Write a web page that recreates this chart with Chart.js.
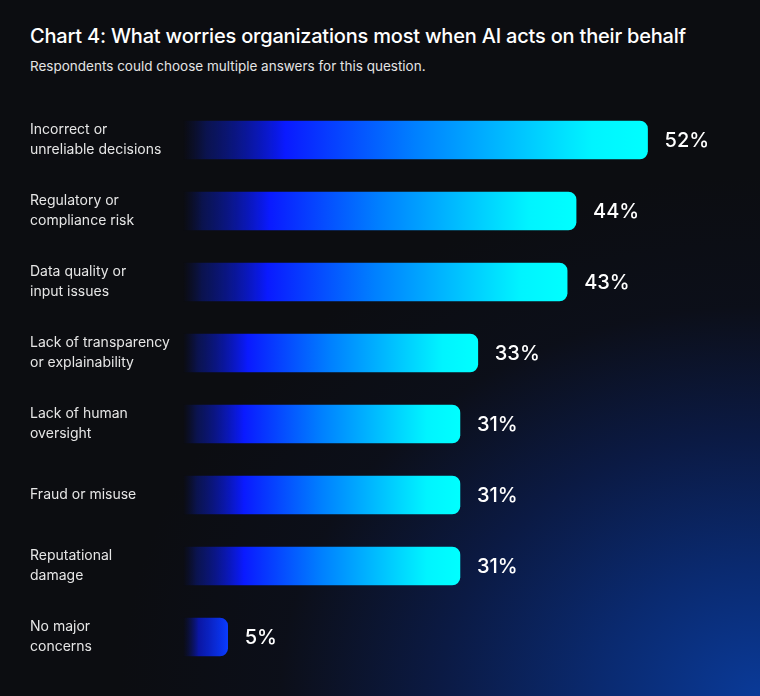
<!DOCTYPE html>
<html>
<head>
<meta charset="utf-8">
<script src="https://cdn.jsdelivr.net/npm/chart.js@4/dist/chart.umd.min.js"></script>
<style>
html,body{margin:0;padding:0;}
body{width:760px;height:696px;overflow:hidden;position:relative;font-family:Inter,"Noto Sans",sans-serif;
background:radial-gradient(ellipse 640px 520px at 100% 100%,#0a3a98 0%,#0a2a70 25%,#0b1a44 50%,rgba(12,16,30,0.6) 75%,rgba(12,13,18,0) 100%),#0c0d11;}
h1{position:absolute;left:30px;top:24px;margin:0;font-size:20px;font-weight:500;color:#fff;letter-spacing:-0.2px;}
p{position:absolute;left:30px;top:58px;margin:0;font-size:13.5px;color:#e4e4e4;}
#wrap{position:absolute;left:0;top:0;width:760px;height:696px;}
</style>
</head>
<body>
<h1>Chart 4: What worries organizations most when AI acts on their behalf</h1>
<p>Respondents could choose multiple answers for this question.</p>
<div id="wrap"><canvas id="c"></canvas></div>
<script>
const categories=[
["Incorrect or","unreliable decisions"],
["Regulatory or","compliance risk"],
["Data quality or","input issues"],
["Lack of transparency","or explainability"],
["Lack of human","oversight"],
"Fraud or misuse",
["Reputational","damage"],
["No major","concerns"]];
const values=[52,44,43,33,31,31,31,5];

function barFill(ctx){
const chart=ctx.chart;
if(!chart.chartArea) return "#0a1aff";
const xs=chart.scales.x;
const x0=xs.getPixelForValue(0);
const x1=xs.getPixelForValue(values[ctx.dataIndex]);
const g=chart.ctx.createLinearGradient(x0,0,x1,0);
if(values[ctx.dataIndex]<10){
g.addColorStop(0,"rgba(10,20,110,0)");
g.addColorStop(0.35,"rgba(10,25,200,0.8)");
g.addColorStop(1,"#0a3cff");
return g;
}
g.addColorStop(0,"rgba(10,20,100,0)");
g.addColorStop(0.05,"rgba(10,25,130,0.55)");
g.addColorStop(0.22,"#0a1aff");
g.addColorStop(0.5,"#0080ff");
g.addColorStop(0.88,"#00f4ff");
g.addColorStop(1,"#00ffff");
return g;
}

const valueLabels={
id:"valueLabels",
afterDatasetsDraw(chart){
const c=chart.ctx;
const meta=chart.getDatasetMeta(0);
c.save();
c.fillStyle="#ffffff";
c.font="500 20px Inter, 'Noto Sans', sans-serif";
c.textAlign="left";
c.textBaseline="middle";
meta.data.forEach((bar,i)=>{
c.fillText(values[i]+"%",bar.x+17,bar.y+1);
});
c.restore();
}
};

new Chart(document.getElementById("c"),{
type:"bar",
data:{labels:categories,datasets:[{
data:values,
backgroundColor:barFill,
borderRadius:8,
borderSkipped:"start",
barThickness:38
}]},
options:{
indexAxis:"y",
responsive:true,
maintainAspectRatio:false,
animation:false,
layout:{padding:{left:30,right:41,top:104.5,bottom:23.5}},
plugins:{legend:{display:false},tooltip:{enabled:false}},
scales:{
x:{display:false,min:0,max:60},
y:{
grid:{display:false},
border:{display:false},
afterFit(axis){axis.width=153;},
ticks:{
crossAlign:"far",
color:"#e6e6e6",
font:{family:"Inter, 'Noto Sans', sans-serif",size:14,lineHeight:1.43}
}
}
}
},
plugins:[valueLabels]
});
</script>
</body>
</html>
